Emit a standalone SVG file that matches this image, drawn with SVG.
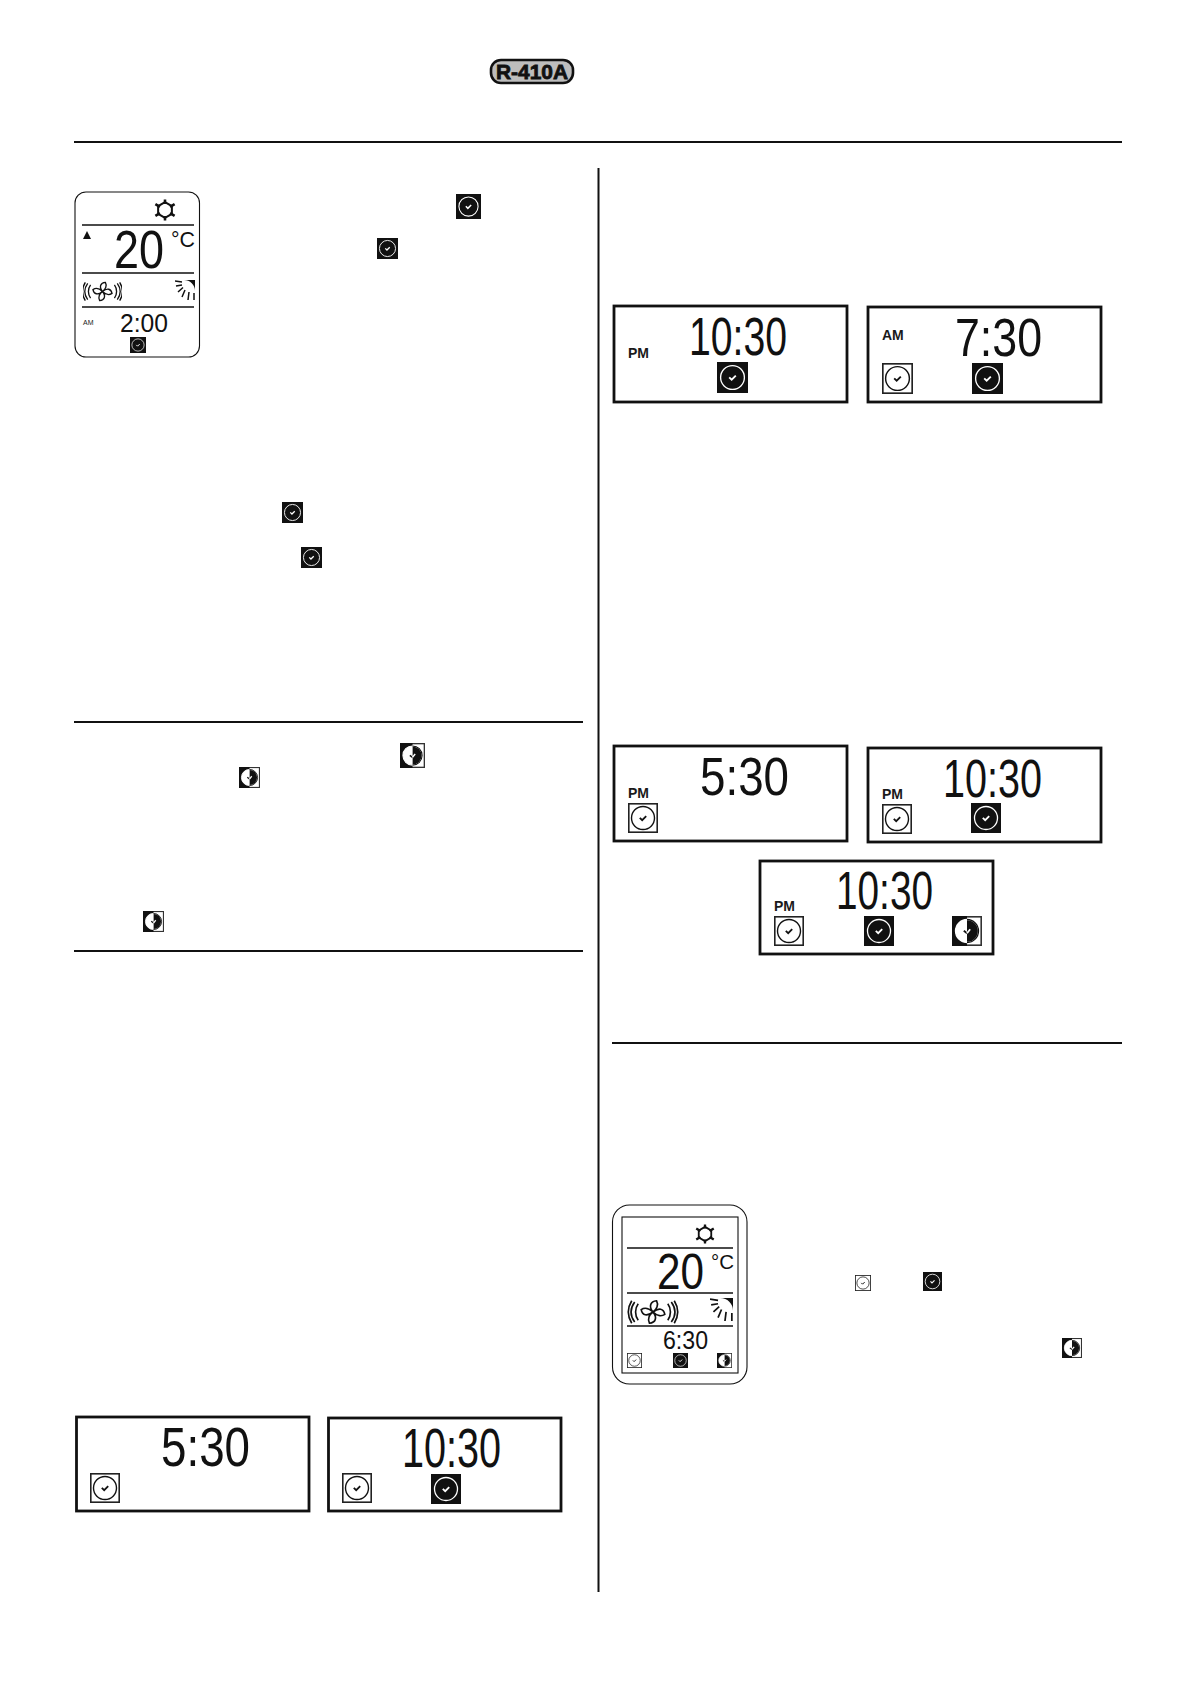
<svg xmlns="http://www.w3.org/2000/svg" xmlns:xlink="http://www.w3.org/1999/xlink" width="1190" height="1684" viewBox="0 0 1190 1684">
<style>
.rule{stroke:#111;stroke-width:2;fill:none}
.panel{fill:#fff;stroke:#111;stroke-width:2.8}
.lcd{font-family:"Liberation Sans",Arial,sans-serif;fill:#111}
.lbl{font-family:"Liberation Sans",Arial,sans-serif;font-weight:700;fill:#1a1a1a}
.thin{stroke:#111;fill:none;stroke-width:1.5}
</style>
<defs>
<symbol id="iconB" viewBox="0 0 30 30"><rect width="30" height="30" fill="#111"/><circle cx="15" cy="15" r="11.5" fill="none" stroke="#fff" stroke-width="1.3"/><path d="M11.8 14.8l2.400 2.400 4-4" fill="none" stroke="#fff" stroke-width="1.800"/></symbol>
<symbol id="iconW" viewBox="0 0 30 30"><rect x=".8" y=".8" width="28.400" height="28.400" fill="#fff" stroke="#222" stroke-width="1.600"/><circle cx="15" cy="15" r="11.5" fill="none" stroke="#111" stroke-width="1.400"/><path d="M11.8 14.8l2.400 2.400 4-4" fill="none" stroke="#111" stroke-width="1.800"/></symbol>
<symbol id="iconH" viewBox="0 0 30 30"><rect x=".8" y=".8" width="28.400" height="28.400" fill="#fff" stroke="#333" stroke-width="1.600"/><rect width="15" height="30" fill="#111"/><path d="M15 3.500a11.500 11.500 0 0 1 0 23z" fill="#111"/><path d="M15 3.500a11.500 11.500 0 0 0 0 23z" fill="#fff"/><circle cx="15" cy="15" r="11.5" fill="none" stroke="#fff" stroke-width="1.3"/><path d="M15 3.500a11.500 11.500 0 0 1 0 23" fill="none" stroke="#111" stroke-width="1.300"/><path d="M11.800 14.800l3.200 2.400" fill="none" stroke="#111" stroke-width="1.800"/><path d="M15 17.200l3.200-4" fill="none" stroke="#fff" stroke-width="1.800"/></symbol>
<symbol id="snow" viewBox="0 0 24 24"><path d="M12 3.500L19.500 7.800V16.200L12 20.500L4.500 16.200V7.800Z" fill="none" stroke="#111" stroke-width="2.200"/><g stroke="#111" stroke-width="2.800"><path d="M12 .5v5M12 18.500v5M1.500 5.500l5 3M22.500 5.500l-5 3M1.500 18.500l5-3M22.500 18.500l-5-3"/></g></symbol>
<symbol id="fan" viewBox="0 0 40 22"><g fill="none" stroke="#111" stroke-width="1.400"><path d="M20 11C16 6 18 2 23 1.500C25 5 23 9 20 11ZM20 11C25 7 29 8 30 13C27 15 23 14 20 11ZM20 11C24 16 22 20 17 20.500C15 17 17 13 20 11ZM20 11C15 15 11 14 10 9C13 7 17 8 20 11Z"/><path d="M7.500 4C4.500 8 4.500 14 7.500 18M4.500 2.500C.5 8 .5 14 4.500 19.500M2 1.500C-2 8-2 14 2 20.500M32.500 4C35.500 8 35.500 14 32.500 18M35.500 2.500C39.500 8 39.500 14 35.500 19.500M38 1.500C42 8 42 14 38 20.500"/></g></symbol>
<symbol id="sun" viewBox="0 0 20 20"><path d="M9 0H20V11A11 11 0 0 0 9 0Z" fill="#111"/><g stroke="#111" stroke-width="1.500"><path d="M0 1L7 2M1 6L7 5M3 12L8 7.500M7 17L10 10M13 20L14 12M19 20V13"/></g></symbol>
</defs>

<rect width="1190" height="1684" fill="#fff"/>

<g id="refrigerant-badge">
<rect x="491" y="60" width="82" height="23" rx="10" fill="#bdbdbd" stroke="#111" stroke-width="2.600"/>
<text x="532" y="79" text-anchor="middle" class="lbl" font-size="21" textLength="72" lengthAdjust="spacingAndGlyphs" stroke="#111" stroke-width=".8" style="fill:#111">R-410A</text>
</g>

<g id="page-rules">
<path class="rule" d="M74 142H1122"/>
<path class="rule" d="M598.500 168V1592"/>
<path class="rule" d="M74 722H583"/>
<path class="rule" d="M74 951H583"/>
<path class="rule" d="M612 1043H1122"/>
</g>

<g id="remote-1">
<rect x="75" y="192" width="124.500" height="165" rx="11" fill="#fff" stroke="#111" stroke-width="1.100"/>
<path class="thin" d="M82 225H194M82 273H194M82 307H194"/>
<use xlink:href="#snow" href="#snow" x="154" y="199" width="22" height="22"/>
<path d="M83 239L87 231L91 239Z" fill="#111"/>
<text class="lcd" x="114" y="268" font-size="53" textLength="50" lengthAdjust="spacingAndGlyphs">20</text>
<text class="lcd" x="171" y="247" font-size="22" textLength="24" lengthAdjust="spacingAndGlyphs">°C</text>
<use xlink:href="#fan" href="#fan" x="83" y="281" width="39" height="21"/>
<use xlink:href="#sun" href="#sun" x="175" y="280" width="20" height="20"/>
<text class="lbl" x="83" y="325" font-size="7" font-weight="400" style="font-weight:400">AM</text>
<text class="lcd" x="120" y="332" font-size="26" textLength="48" lengthAdjust="spacingAndGlyphs">2:00</text>
<use xlink:href="#iconB" href="#iconB" x="130" y="337" width="16" height="16"/>
</g>

<g id="inline-icons">
<use xlink:href="#iconB" href="#iconB" x="456" y="194" width="25" height="25"/>
<use xlink:href="#iconB" href="#iconB" x="377" y="238" width="21" height="21"/>
<use xlink:href="#iconB" href="#iconB" x="282" y="502" width="21" height="21"/>
<use xlink:href="#iconB" href="#iconB" x="301" y="547" width="21" height="21"/>
<use xlink:href="#iconH" href="#iconH" x="400" y="743" width="25" height="25"/>
<use xlink:href="#iconH" href="#iconH" x="239" y="767" width="21" height="21"/>
<use xlink:href="#iconH" href="#iconH" x="143" y="911" width="21" height="21"/>
<use xlink:href="#iconW" href="#iconW" x="855" y="1275" width="16" height="16"/>
<use xlink:href="#iconB" href="#iconB" x="923" y="1272" width="19" height="19"/>
<use xlink:href="#iconH" href="#iconH" x="1062" y="1338" width="20" height="20"/>
</g>

<g id="panel-left-530">
<rect class="panel" x="76.500" y="1417" width="232.500" height="94"/>
<text class="lcd" x="161" y="1466" font-size="55" textLength="89" lengthAdjust="spacingAndGlyphs">5:30</text>
<use xlink:href="#iconW" href="#iconW" x="90" y="1473" width="30" height="30"/>
</g>
<g id="panel-left-1030">
<rect class="panel" x="328.500" y="1418" width="232.500" height="93"/>
<text class="lcd" x="402" y="1467" font-size="55" textLength="99" lengthAdjust="spacingAndGlyphs">10:30</text>
<use xlink:href="#iconW" href="#iconW" x="342" y="1473" width="30" height="30"/>
<use xlink:href="#iconB" href="#iconB" x="431" y="1474" width="30" height="30"/>
</g>

<g id="panel-right-pm-1030">
<rect class="panel" x="614" y="306" width="233" height="96"/>
<text class="lcd" x="689" y="355" font-size="54" textLength="98" lengthAdjust="spacingAndGlyphs">10:30</text>
<text class="lbl" x="628" y="358" font-size="14">PM</text>
<use xlink:href="#iconB" href="#iconB" x="717" y="362" width="31" height="31"/>
</g>
<g id="panel-right-am-730">
<rect class="panel" x="868" y="307" width="233" height="95"/>
<text class="lcd" x="955" y="356" font-size="54" textLength="87" lengthAdjust="spacingAndGlyphs">7:30</text>
<text class="lbl" x="882" y="340" font-size="14">AM</text>
<use xlink:href="#iconW" href="#iconW" x="882" y="363" width="31" height="31"/>
<use xlink:href="#iconB" href="#iconB" x="972" y="363" width="31" height="31"/>
</g>
<g id="panel-right-pm-530">
<rect class="panel" x="614" y="746" width="233" height="95"/>
<text class="lcd" x="700" y="795" font-size="54" textLength="89" lengthAdjust="spacingAndGlyphs">5:30</text>
<text class="lbl" x="628" y="798" font-size="14">PM</text>
<use xlink:href="#iconW" href="#iconW" x="628" y="803" width="30" height="30"/>
</g>
<g id="panel-right-pm-1030b">
<rect class="panel" x="868" y="748" width="233" height="94"/>
<text class="lcd" x="943" y="797" font-size="54" textLength="99" lengthAdjust="spacingAndGlyphs">10:30</text>
<text class="lbl" x="882" y="799" font-size="14">PM</text>
<use xlink:href="#iconW" href="#iconW" x="882" y="804" width="30" height="30"/>
<use xlink:href="#iconB" href="#iconB" x="971" y="803" width="30" height="30"/>
</g>
<g id="panel-right-pm-1030c">
<rect class="panel" x="760" y="861" width="233" height="93"/>
<text class="lcd" x="836" y="909" font-size="54" textLength="97" lengthAdjust="spacingAndGlyphs">10:30</text>
<text class="lbl" x="774" y="911" font-size="14">PM</text>
<use xlink:href="#iconW" href="#iconW" x="774" y="916" width="30" height="30"/>
<use xlink:href="#iconB" href="#iconB" x="864" y="916" width="30" height="30"/>
<use xlink:href="#iconH" href="#iconH" x="952" y="916" width="30" height="30"/>
</g>

<g id="remote-2">
<rect x="612.500" y="1205" width="134.500" height="179" rx="17" fill="#fff" stroke="#111" stroke-width="1.100"/>
<rect x="622" y="1217" width="116" height="156" fill="none" stroke="#111" stroke-width="1.100"/>
<path class="thin" d="M627 1248H733M627 1293H733M627 1326H733"/>
<use xlink:href="#snow" href="#snow" x="695" y="1224" width="20" height="20"/>
<text class="lcd" x="657" y="1289" font-size="50" textLength="47" lengthAdjust="spacingAndGlyphs">20</text>
<text class="lcd" x="711" y="1269" font-size="21" textLength="23" lengthAdjust="spacingAndGlyphs">°C</text>
<use xlink:href="#fan" href="#fan" x="627" y="1299" width="52" height="26"/>
<use xlink:href="#sun" href="#sun" x="710" y="1298" width="23" height="23"/>
<text class="lcd" x="663" y="1349" font-size="25" textLength="45" lengthAdjust="spacingAndGlyphs">6:30</text>
<use xlink:href="#iconW" href="#iconW" x="627" y="1353" width="15" height="15"/>
<use xlink:href="#iconB" href="#iconB" x="673" y="1353" width="15" height="15"/>
<use xlink:href="#iconH" href="#iconH" x="717" y="1353" width="15" height="15"/>
</g>
</svg>
